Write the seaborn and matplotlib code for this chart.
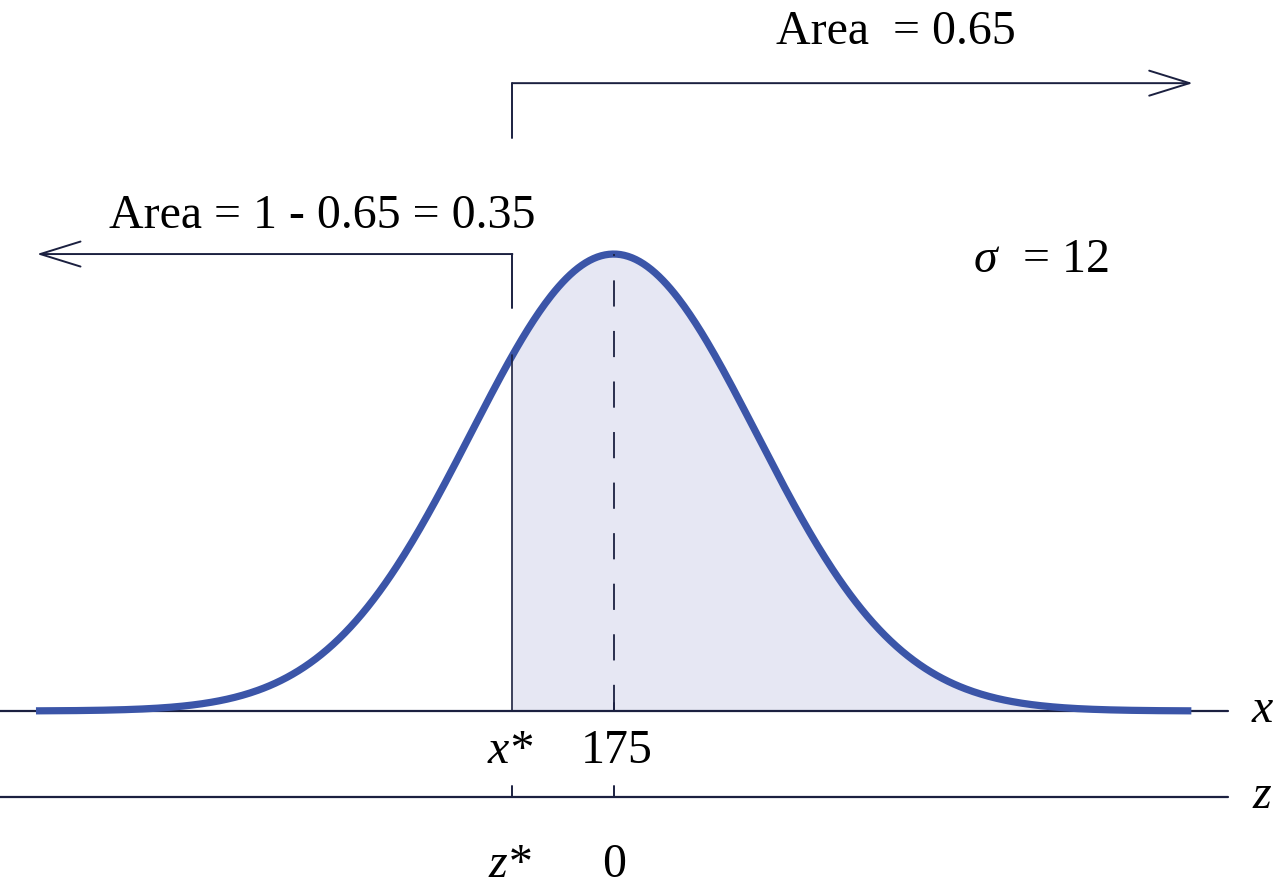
import numpy as np
import pandas as pd
import matplotlib.pyplot as plt
import seaborn as sns

# distribution and labels
mean = 175
sd = 12
x_star = 166.5          # (sits ~0.7 sd left of the mean)
area_right = 0.65
area_left_text = "Area = 1 - 0.65 = 0.35"
area_right_text = "Area  = 0.65"
sigma_sym = "\u03c3"
sigma_val = "= 12"
x_tick_labels = ["x*", "175"]
z_tick_labels = ["z*", "0"]

curve_color = "#3b55a8"
fill_color = "#e6e7f3"
ink = "#1b2040"

sns.set_style("white")
plt.rcParams['font.family'] = ['Liberation Serif', 'DejaVu Serif']
plt.rcParams['text.color'] = 'black'
FS = 34.5

# normal curve, scaled so the peak is 1
xs = np.linspace(mean - 4.04 * sd, mean + 4.04 * sd, 600)
dens = np.exp(-0.5 * ((xs - mean) / sd) ** 2)
df = pd.DataFrame({'x': xs, 'y': dens})

fig = plt.figure(figsize=(12.75, 8.91), dpi=100)
ax = fig.add_axes([0, 0, 1, 1])
ax.set_xlim(123.5, 230.5)
ax.set_ylim(-0.394, 1.556)
ax.axis('off')

# shaded right-hand area
right = df[df['x'] >= x_star]
ax.fill_between(right['x'], 0, right['y'], color=fill_color, lw=0)

# axes lines
x_end = 226.55
z_y = -0.188
ax.plot([123.5, x_end], [0, 0], color=ink, lw=1.6)
ax.plot([123.5, x_end], [z_y, z_y], color=ink, lw=1.6)

# curve
sns.lineplot(data=df, x='x', y='y', color=curve_color, lw=5.2, ax=ax,
             solid_capstyle='butt')

# vertical at x* and dashed line at mean
y_xs = np.exp(-0.5 * ((x_star - mean) / sd) ** 2)
ax.plot([x_star, x_star], [0, y_xs], color=ink, lw=1.2)
ax.plot([mean, mean], [0, 1], color=ink, lw=1.3, ls=(0, (14.5, 13.5)))
ax.plot([mean, mean], [0, 0.0175], color=ink, lw=1.3)

# ticks on z axis
for xv in [x_star, mean]:
    ax.plot([xv, xv], [z_y, z_y + 0.024], color=ink, lw=1.4)

# tick labels
ax.text(166.3, -0.114, x_tick_labels[0], ha='center', va='baseline',
        fontsize=FS, style='italic')
ax.text(175.28, -0.114, x_tick_labels[1], ha='center', va='baseline',
        fontsize=FS)
ax.text(166.3, -0.363, z_tick_labels[0], ha='center', va='baseline',
        fontsize=FS, style='italic')
ax.text(mean, -0.363, z_tick_labels[1], ha='center', va='baseline',
        fontsize=FS)
ax.text(229.4, -0.024, 'x', ha='center', va='baseline', fontsize=FS, style='italic')
ax.text(229.4, -0.212, 'z', ha='center', va='baseline', fontsize=FS, style='italic')

# area arrows
top_y = 1.374
low_y = 1.0
ax.plot([x_star, x_star], [1.254, top_y], color=ink, lw=1.4)
ax.annotate('', xy=(223.6, top_y), xytext=(x_star, top_y),
            arrowprops=dict(arrowstyle='->,head_length=1.45,head_width=0.45',
                            lw=1.4, color=ink, mutation_scale=20,
                            shrinkA=0, shrinkB=0))
ax.plot([x_star, x_star], [0.882, low_y], color=ink, lw=1.4)
ax.annotate('', xy=(126.6, low_y), xytext=(x_star, low_y),
            arrowprops=dict(arrowstyle='->,head_length=1.45,head_width=0.45',
                            lw=1.4, color=ink, mutation_scale=20,
                            shrinkA=0, shrinkB=0))

ax.text(198.7, 1.46, area_right_text, ha='center', va='baseline', fontsize=FS)
ax.text(150.56, 1.057, area_left_text, ha='center', va='baseline', fontsize=FS)
ax.text(205.2, 0.961, sigma_sym, ha='left', va='baseline', fontsize=FS,
        style='italic')
ax.text(216.65, 0.961, sigma_val, ha='right', va='baseline', fontsize=FS)

fig.savefig('out.png', dpi=100)
